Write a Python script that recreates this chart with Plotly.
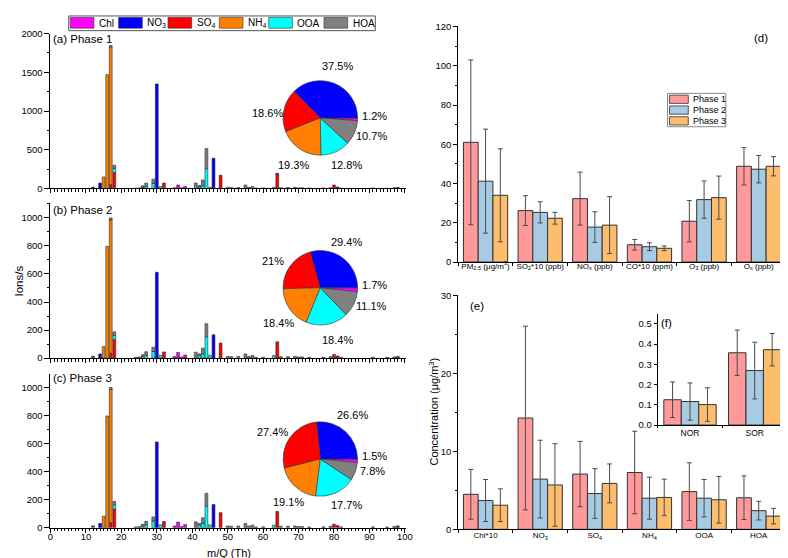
import plotly.graph_objects as go

W, H = 788, 558


def px(x):
    return x / W


def py(y):
    return 1 - y / H


FONT = "Arial, Liberation Sans, sans-serif"

# ---------------- component names / colours ----------------
COMPONENTS = ["Chl", "NO<sub>3</sub>", "SO<sub>4</sub>", "NH<sub>4</sub>", "OOA", "HOA"]
COMP_COLORS = ["#FF00FF", "#0000FF", "#FF0000", "#FF8000", "#00FFFF", "#808080"]

# ---------------- mass spectra (ions/s) ----------------
CHL_MZ = [35, 36, 37, 38]
NO3_MZ = [14, 30, 46]
SO4_MZ = [17, 18, 32, 48, 64, 80, 81, 98]
NH4_MZ = [15, 16, 17]
OOA_MZ = [12, 18, 26, 27, 29, 31, 42, 43, 44, 45, 63]
HOA_MZ = [12, 17, 18, 24, 25, 26, 27, 29, 41, 42, 43, 44,
          50, 51, 53, 55, 56, 57, 58, 60,
          64, 65, 67, 69, 70, 71, 73, 77, 79, 82,
          91, 95, 97, 98]

CHL_P1 = [10, 45, 10, 25]
NO3_P1 = [70, 1350, 390]
SO4_P1 = [50, 205, 70, 170, 190, 45, 20, 5]
NH4_P1 = [150, 1470, 1775]
OOA_P1 = [8, 55, 15, 25, 65, 25, 20, 35, 255, 15, 15]
HOA_P1 = [10, 20, 40, 5, 8, 20, 45, 55, 70, 20, 75, 260,
          15, 12, 12, 45, 15, 25, 6, 8,
          5, 10, 12, 15, 8, 10, 8, 8, 10, 6,
          8, 5, 10, 8]

CHL_P2 = [12, 40, 8, 22]
NO3_P2 = [30, 612, 166]
SO4_P2 = [35, 133, 44, 107, 110, 25, 15, 5]
NH4_P2 = [82, 797, 950]
OOA_P2 = [8, 30, 12, 20, 47, 20, 20, 30, 152, 20, 18]
HOA_P2 = [5, 15, 24, 5, 8, 12, 25, 30, 42, 10, 40, 93,
          12, 10, 12, 30, 12, 18, 5, 6,
          6, 10, 10, 12, 8, 8, 5, 6, 10, 6,
          6, 5, 8, 8]

CHL_P3 = [12, 40, 8, 22]
NO3_P3 = [30, 612, 166]
SO4_P3 = [35, 133, 44, 107, 110, 25, 15, 5]
NH4_P3 = [82, 797, 950]
OOA_P3 = [8, 30, 12, 20, 47, 20, 20, 30, 152, 20, 18]
HOA_P3 = [5, 15, 24, 5, 8, 12, 25, 30, 42, 10, 40, 93,
          12, 10, 12, 30, 12, 18, 5, 6,
          6, 10, 10, 12, 8, 8, 5, 6, 10, 6,
          6, 5, 8, 8]

# ---------------- pie fractions (%) ----------------
PIE_P1 = [1.2, 37.5, 18.6, 19.3, 12.8, 10.7]
PIE_P2 = [1.7, 29.4, 21, 18.4, 18.4, 11.1]
PIE_P3 = [1.5, 26.6, 27.4, 19.1, 17.7, 7.8]

# ---------------- panel (d) ----------------
D_CATS = ["PM<sub>2.5</sub> (μg/m<sup>3</sup>)", "SO<sub>2</sub>*10 (ppb)", "NO<sub>x</sub> (ppb)",
          "CO*10 (ppm)", "O<sub>3</sub> (ppb)", "O<sub>x</sub> (ppb)"]
D_P1 = [61, 26.2, 32.3, 8.8, 20.8, 48.8]
D_P1_ERR = [42, 7.6, 13.5, 2.7, 10.5, 9.5]
D_P2 = [41.2, 25.3, 17.8, 7.8, 31.8, 47.3]
D_P2_ERR = [26.5, 5.4, 7.8, 2.0, 9.5, 7.0]
D_P3 = [34, 22.3, 18.8, 7.0, 32.8, 48.8]
D_P3_ERR = [23.7, 3.0, 14.5, 1.2, 11.0, 4.9]

# ---------------- panel (e) ----------------
E_CATS = ["Chl*10", "NO<sub>3</sub>", "SO<sub>4</sub>", "NH<sub>4</sub>", "OOA", "HOA"]
E_P1 = [4.5, 14.3, 7.1, 7.3, 4.85, 4.06]
E_P1_ERR = [3.2, 11.8, 4.2, 5.3, 3.7, 2.8]
E_P2 = [3.7, 6.45, 4.6, 4.0, 4.0, 2.4]
E_P2_ERR = [2.7, 5.0, 3.2, 2.7, 2.4, 1.2]
E_P3 = [3.1, 5.7, 5.9, 4.1, 3.8, 1.7]
E_P3_ERR = [2.1, 5.3, 2.5, 2.35, 3.0, 1.0]

# ---------------- panel (f) ----------------
F_CATS = ["NOR", "SOR"]
F_P1 = [0.125, 0.357]
F_P1_ERR = [0.088, 0.112]
F_P2 = [0.116, 0.269]
F_P2_ERR = [0.092, 0.14]
F_P3 = [0.101, 0.372]
F_P3_ERR = [0.083, 0.08]

PHASES = ["Phase 1", "Phase 2", "Phase 3"]
PHASE_COLORS = ["#FF999A", "#A6CBE2", "#FDBD6C"]

fig = go.Figure()

# ---------------- stacked spectra ----------------
spec_mz = [CHL_MZ, NO3_MZ, SO4_MZ, NH4_MZ, OOA_MZ, HOA_MZ]
spec_vals = [
    [CHL_P1, NO3_P1, SO4_P1, NH4_P1, OOA_P1, HOA_P1],
    [CHL_P2, NO3_P2, SO4_P2, NH4_P2, OOA_P2, HOA_P2],
    [CHL_P3, NO3_P3, SO4_P3, NH4_P3, OOA_P3, HOA_P3],
]
spec_axes = [("x", "y"), ("x2", "y2"), ("x3", "y3")]
for p in range(3):
    running = {}
    for ci in range(6):
        mzs = spec_mz[ci]
        vals = spec_vals[p][ci]
        base = [running.get(m, 0) for m in mzs]
        for m, v in zip(mzs, vals):
            running[m] = running.get(m, 0) + v
        fig.add_trace(go.Bar(
            x=mzs, y=vals, base=base, width=0.8, offset=-0.4,
            marker=dict(color=COMP_COLORS[ci], line=dict(color="#2a2a2a", width=0.6)),
            name=COMPONENTS[ci], showlegend=False,
            xaxis=spec_axes[p][0], yaxis=spec_axes[p][1], hoverinfo="skip",
        ))

# ---------------- pies ----------------
PIE_CENTERS_Y = [106, 279.3, 454]
PIE_CX = 313.3
PIE_R = 38
pies = [PIE_P1, PIE_P2, PIE_P3]
for p in range(3):
    cy = PIE_CENTERS_Y[p]
    fig.add_trace(go.Pie(
        values=pies[p], labels=["Chl", "NO3", "SO4", "NH4", "OOA", "HOA"],
        marker=dict(colors=COMP_COLORS, line=dict(color="#333333", width=0.6)),
        textinfo="none", sort=False, direction="counterclockwise", rotation=90,
        showlegend=False, hoverinfo="skip",
        domain=dict(x=[px(PIE_CX - PIE_R), px(PIE_CX + PIE_R)],
                    y=[py(cy + PIE_R), py(cy - PIE_R)]),
    ))

PIE_LABEL_OFFSETS = [
    [(55, -2), (17, -53), (-54, -5), (-27, 48), (27, 48), (52, 18)],
    [(55, -3), (27, -47), (-48, -27), (-42, 36), (17, 53), (52, 19)],
    [(55, -3), (33, -45), (-48, -28), (-32, 44), (27, 47), (53, 12)],
]

annotations = []
shapes = []
for p in range(3):
    cy = PIE_CENTERS_Y[p]
    for ci in range(6):
        dx, dy = PIE_LABEL_OFFSETS[p][ci]
        annotations.append(dict(
            x=px(PIE_CX + dx), y=py(cy + dy), xref="paper", yref="paper",
            text=f"{pies[p][ci]:g}%", showarrow=False,
            font=dict(size=11, color="black", family=FONT), xanchor="center", yanchor="middle"))

# ---------------- grouped bars (d), (e), (f) ----------------
d_vals = [(D_P1, D_P1_ERR), (D_P2, D_P2_ERR), (D_P3, D_P3_ERR)]
e_vals = [(E_P1, E_P1_ERR), (E_P2, E_P2_ERR), (E_P3, E_P3_ERR)]
f_vals = [(F_P1, F_P1_ERR), (F_P2, F_P2_ERR), (F_P3, F_P3_ERR)]
for cats, vals, xa, ya in [(D_CATS, d_vals, "x4", "y4"),
                           (E_CATS, e_vals, "x5", "y5"),
                           (F_CATS, f_vals, "x6", "y6")]:
    for k in range(3):
        fig.add_trace(go.Bar(
            x=cats, y=vals[k][0], name=PHASES[k],
            error_y=dict(type="data", array=vals[k][1], color="#4a4a4a", thickness=1, width=2.5),
            marker=dict(color=PHASE_COLORS[k], line=dict(color="#333333", width=1)),
            xaxis=xa, yaxis=ya, showlegend=False, hoverinfo="skip",
        ))

# ---------------- axes ----------------
common = dict(showline=True, linecolor="black", linewidth=1, ticks="outside", tickcolor="black",
              ticklen=4, tickwidth=1, showgrid=False, zeroline=False,
              tickfont=dict(size=9.5, color="black", family=FONT))

spec_x_dom = [px(40), px(400)]
spec_y_doms = [[py(178), py(20)], [py(351), py(193)], [py(524), py(367)]]
spec_y_ranges = [[0, 2000], [0, 1105], [0, 1098]]
spec_y_dticks = [500, 200, 200]

layout_axes = {}
for i in range(3):
    sx = "xaxis" if i == 0 else f"xaxis{i + 1}"
    sy = "yaxis" if i == 0 else f"yaxis{i + 1}"
    yname = "y" if i == 0 else f"y{i + 1}"
    xname = "x" if i == 0 else f"x{i + 1}"
    layout_axes[sx] = dict(common, domain=spec_x_dom, anchor=yname, range=[0, 100.3], dtick=10,
                           tick0=0, showticklabels=(i == 2), ticklen=4,
                           ticklabelstandoff=-4,
                           minor=dict(dtick=1, ticklen=2.5, ticks="outside", tickcolor="black"))
    layout_axes[sy] = dict(common, domain=spec_y_doms[i], anchor=xname, range=spec_y_ranges[i],
                           dtick=spec_y_dticks[i], ticklen=5,
                           minor=dict(dtick=spec_y_dticks[i] / 2, ticklen=2.5, ticks="outside",
                                      tickcolor="black"))

right_x_dom = [px(453), px(785)]
cat_font = dict(size=8, color="black", family=FONT)
layout_axes["xaxis4"] = dict(common, domain=right_x_dom, anchor="y4", tickson="boundaries",
                             ticklen=3, tickangle=0, tickfont=cat_font, ticklabelstandoff=-4)
layout_axes["yaxis4"] = dict(common, domain=[py(253), py(12)], anchor="x4", range=[0, 120.4], dtick=20,
                             minor=dict(dtick=10, ticklen=2.5, ticks="outside", tickcolor="black"))
layout_axes["xaxis5"] = dict(common, domain=right_x_dom, anchor="y5", tickson="boundaries",
                             ticklen=3, tickangle=0, tickfont=cat_font, ticklabelstandoff=-2)
layout_axes["yaxis5"] = dict(common, domain=[py(525.7), py(286.7)], anchor="x5", range=[0, 30.1],
                             dtick=10,
                             minor=dict(dtick=5, ticklen=2.5, ticks="outside", tickcolor="black"))
layout_axes["xaxis6"] = dict(common, domain=[px(655), px(786)], anchor="y6", tickson="boundaries",
                             ticklen=2, tickangle=0, tickfont=dict(size=8.5, color="black", family=FONT))
layout_axes["yaxis6"] = dict(common, domain=[py(419.3), py(305.7)], anchor="x6", range=[0, 0.55],
                             dtick=0.1, tickformat=".1f", ticklen=3)


# ---------------- text annotations ----------------
def label(x, y, text, size=11, xanchor="left", angle=0, yanchor="middle"):
    annotations.append(dict(x=px(x), y=py(y), xref="paper", yref="paper", text=text,
                            showarrow=False, font=dict(size=size, color="black", family=FONT),
                            xanchor=xanchor, yanchor=yanchor, textangle=angle, borderpad=0))


label(42, 26, "(a) Phase 1", 11.5)
label(42, 199.5, "(b) Phase 2", 11.5)
label(42, 371, "(c) Phase 3", 11.5)
label(221, 549.5, "m/Q (Th)", 11, "center")
label(8, 272, "Ions/s", 11.5, "center", -90)
label(752, 24, "(d)", 11.5)
label(464, 298, "(e)", 11.5)
label(657, 315, "(f)", 11.5)
label(428, 406, "Concentration (μg/m<sup>3</sup>)", 11, "center", -90)

# ---------------- legends (drawn as swatches + text) ----------------
LEG1_BOX = (58.5, 2, 369, 17)
LEG1_SWATCH_X = [60, 109, 159, 211, 261, 317]
shapes.append(dict(type="rect", xref="paper", yref="paper",
                   x0=px(LEG1_BOX[0]), x1=px(LEG1_BOX[2]), y0=py(LEG1_BOX[3]), y1=py(LEG1_BOX[1]),
                   line=dict(color="#555555", width=1), fillcolor="white"))
for ci in range(6):
    sx = LEG1_SWATCH_X[ci]
    shapes.append(dict(type="rect", xref="paper", yref="paper",
                       x0=px(sx), x1=px(sx + 24), y0=py(14.5), y1=py(3.5),
                       line=dict(color="#333333", width=0.6), fillcolor=COMP_COLORS[ci]))
    annotations.append(dict(x=px(sx + 27), y=py(9.5), xref="paper", yref="paper",
                            text=COMPONENTS[ci], showarrow=False, xanchor="left", yanchor="middle",
                            font=dict(size=10, color="black", family=FONT)))

LEG2_BOX = (665, 81, 724, 115)
shapes.append(dict(type="rect", xref="paper", yref="paper",
                   x0=px(LEG2_BOX[0]), x1=px(LEG2_BOX[2]), y0=py(LEG2_BOX[3]), y1=py(LEG2_BOX[1]),
                   line=dict(color="#888888", width=1), fillcolor="white"))
for k in range(3):
    cy = 87 + 11 * k
    shapes.append(dict(type="rect", xref="paper", yref="paper",
                       x0=px(667), x1=px(686), y0=py(cy + 4.2), y1=py(cy - 4.2),
                       line=dict(color="#333333", width=0.8), fillcolor=PHASE_COLORS[k]))
    annotations.append(dict(x=px(689), y=py(cy), xref="paper", yref="paper",
                            text=PHASES[k], showarrow=False, xanchor="left", yanchor="middle",
                            font=dict(size=9, color="black", family=FONT)))

fig.update_layout(
    width=W, height=H, margin=dict(l=0, r=0, t=0, b=0),
    paper_bgcolor="white", plot_bgcolor="white",
    font=dict(family=FONT, color="black"),
    barmode="group", bargap=0.19, bargroupgap=0,
    showlegend=False,
    annotations=annotations, shapes=shapes,
    **layout_axes,
)

fig.write_html("out.html")
